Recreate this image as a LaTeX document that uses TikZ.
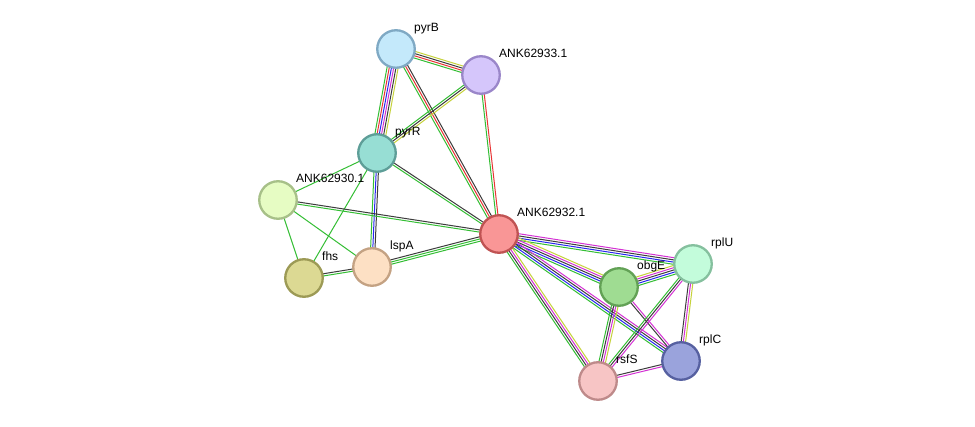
\documentclass[tikz,border=0pt]{standalone}
\usepackage{fontspec}
\setmainfont{Liberation Sans}
\usetikzlibrary{calc}
\pgfdeclarelayer{background}
\pgfsetlayers{background,main}
\definecolor{sgreen}{RGB}{52,190,52}
\definecolor{sred}{RGB}{232,52,52}
\definecolor{sblue}{RGB}{40,40,240}
\definecolor{sblack}{RGB}{60,60,60}
\definecolor{smag}{RGB}{212,50,212}
\definecolor{syel}{RGB}{198,210,60}
\definecolor{fpyrB}{HTML}{C4E9FB}\definecolor{dpyrB}{HTML}{7FA9C4}
\definecolor{fa33}{HTML}{D5C6FB}\definecolor{da33}{HTML}{9A86C9}
\definecolor{fpyrR}{HTML}{97DED4}\definecolor{dpyrR}{HTML}{5E9E98}
\definecolor{fa30}{HTML}{E6FCC3}\definecolor{da30}{HTML}{A7C088}
\definecolor{fa32}{HTML}{F99696}\definecolor{da32}{HTML}{C05353}
\definecolor{ffhs}{HTML}{DCD993}\definecolor{dfhs}{HTML}{9C9A55}
\definecolor{flspA}{HTML}{FDE0C4}\definecolor{dlspA}{HTML}{C4A283}
\definecolor{fobgE}{HTML}{9FDC92}\definecolor{dobgE}{HTML}{62A155}
\definecolor{frplU}{HTML}{C3FCDB}\definecolor{drplU}{HTML}{85C09E}
\definecolor{frplC}{HTML}{9AA3DC}\definecolor{drplC}{HTML}{5660A0}
\definecolor{frsfS}{HTML}{F7C5C5}\definecolor{drsfS}{HTML}{BE8A8A}
\newcommand\sedge[3]{%
  \foreach \c [count=\i] in {#3} {\xdef\nlines{\i}}%
  \foreach \c [count=\i] in {#3} {%
    \pgfmathsetmacro\off{(\i-(\nlines+1)/2)*2.2}%
    \draw[\c, line width=1pt] ($(#1.center)!\off pt!90:(#2.center)$) -- ($(#2.center)!\off pt!-90:(#1.center)$);
  }%
}
\tikzset{
  prot/.style={circle, minimum size=37.5pt, inner sep=0pt, line width=2.3pt, fill=f#1, draw=d#1},
  lbl/.style={anchor=base west, inner sep=0pt, font=\fontsize{12}{13}\selectfont}
}
\begin{document}
\begin{tikzpicture}[x=1pt,y=-1pt]
\useasboundingbox (0,0) rectangle (975,427);
\node[prot=pyrB] (pyrB) at (396,49) {};
\node[prot=a33] (a33) at (481,75) {};
\node[prot=pyrR] (pyrR) at (377,153) {};
\node[prot=a30] (a30) at (278,200) {};
\node[prot=a32] (a32) at (499,234) {};
\node[prot=fhs] (fhs) at (304,278) {};
\node[prot=lspA] (lspA) at (372,267) {};
\node[prot=obgE] (obgE) at (619,287) {};
\node[prot=rplU] (rplU) at (693,264) {};
\node[prot=rplC] (rplC) at (681,361) {};
\node[prot=rsfS] (rsfS) at (598,381) {};
\node[lbl] (tpyrB) at ($(pyrB)+(18,-17)$) {pyrB};
\node[lbl] (ta33) at ($(a33)+(18,-17)$) {ANK62933.1};
\node[lbl] (tpyrR) at ($(pyrR)+(18,-17)$) {pyrR};
\node[lbl] (ta30) at ($(a30)+(18,-17)$) {ANK62930.1};
\node[lbl] (ta32) at ($(a32)+(18,-17)$) {ANK62932.1};
\node[lbl] (tfhs) at ($(fhs)+(18,-17)$) {fhs};
\node[lbl] (tlspA) at ($(lspA)+(18,-17)$) {lspA};
\node[lbl] (tobgE) at ($(obgE)+(18,-17)$) {obgE};
\node[lbl] (trplU) at ($(rplU)+(18,-17)$) {rplU};
\node[lbl] (trplC) at ($(rplC)+(18,-17)$) {rplC};
\node[lbl] (trsfS) at ($(rsfS)+(18,-17)$) {rsfS};
\begin{pgfonlayer}{background}
\fill[white] (0,0) rectangle (975,427);
\sedge{pyrB}{a33}{sgreen,sred,sblack,syel}
\sedge{pyrB}{pyrR}{sgreen,sred,sblue,smag,sblack,syel}
\sedge{pyrB}{a32}{sgreen,sred,sblack}
\sedge{a33}{pyrR}{sgreen,sblack,syel}
\sedge{a33}{a32}{sgreen,sred}
\sedge{pyrR}{a30}{sgreen}
\sedge{pyrR}{fhs}{sgreen}
\sedge{pyrR}{lspA}{sgreen,sblue,sblack}
\sedge{pyrR}{a32}{sgreen,sblack}
\sedge{a30}{a32}{sgreen,sblack}
\sedge{a30}{fhs}{sgreen}
\sedge{a30}{lspA}{sgreen}
\sedge{fhs}{lspA}{sgreen,sblack}
\sedge{lspA}{a32}{sgreen,sgreen,sblack}
\sedge{a32}{rplU}{sgreen,sblue,sblack,smag}
\sedge{a32}{obgE}{sgreen,sblue,sblack,smag,syel}
\sedge{a32}{rplC}{sgreen,sblue,sblack,smag}
\sedge{a32}{rsfS}{sgreen,sblack,smag,syel}
\sedge{obgE}{rplU}{sgreen,sblue,sblack,smag,syel}
\sedge{obgE}{rsfS}{sgreen,sblack,smag,syel}
\sedge{obgE}{rplC}{sblack,smag}
\sedge{rplU}{rsfS}{sgreen,sblack,smag}
\sedge{rplU}{rplC}{sblack,smag,syel}
\sedge{rsfS}{rplC}{smag,sblack}
\end{pgfonlayer}
\end{tikzpicture}
\end{document}
